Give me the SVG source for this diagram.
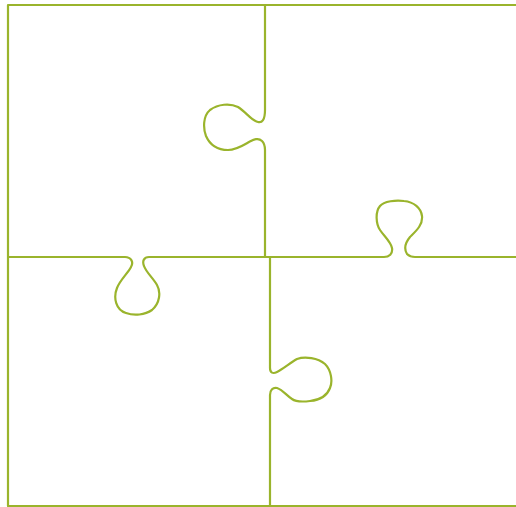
<svg xmlns="http://www.w3.org/2000/svg" width="516" height="507" viewBox="0 0 516 507">
  <style>
    .edge { fill: none; stroke: #9ab42c; stroke-width: 2.2; stroke-linecap: round; stroke-linejoin: round; }
  </style>
  <rect x="0" y="0" width="516" height="507" fill="#ffffff"/>
  <g id="frame">
    <path class="edge" d="M518,5 H8 V506 H518"/>
  </g>
  <g id="piece-top-left-right-edge">
    <path class="edge" d="M265,5 V110 C265,120 262,123 258,122 C252,121 246,112 238,107 C230,103 218,104 210,110 C203,116 203,128 206,136 C210,145 218,150 228,150 C236,150 242,146 249,142 C253,140 258,137 262,141 C264,143 265,146 265,150 V257"/>
  </g>
  <g id="piece-left-bottom-edge">
    <path class="edge" d="M8,257 H125 C131,257 134,262 131,267 C128,273 120,280 117,288 C113,298 116,310 126,313 C134,316 145,315 152,310 C160,303 161,292 157,285 C153,278 146,272 144,266 C142,261 144,257 149,257 H265"/>
  </g>
  <g id="piece-right-bottom-edge">
    <path class="edge" d="M265,257 H384 C389,257 393,254 392,248 C391,242 384,236 380,230 C376,224 375,212 380,206 C384,201 396,200 404,201 C414,202 421,208 422,216 C423,225 416,231 410,237 C405,243 404,249 407,254 C409,256 411,257 415,257 H518"/>
  </g>
  <g id="piece-bottom-right-left-edge">
    <path class="edge" d="M270,257 V368 C270,373 273,374 277,372 C283,369 290,363 297,359 C305,356 318,358 325,364 C331,370 333,381 330,388 C327,396 320,400 310,401 C302,402 296,402 292,399 C287,396 283,390 277,388 C273,387 270,390 270,395 V507"/>
  </g>
</svg>
